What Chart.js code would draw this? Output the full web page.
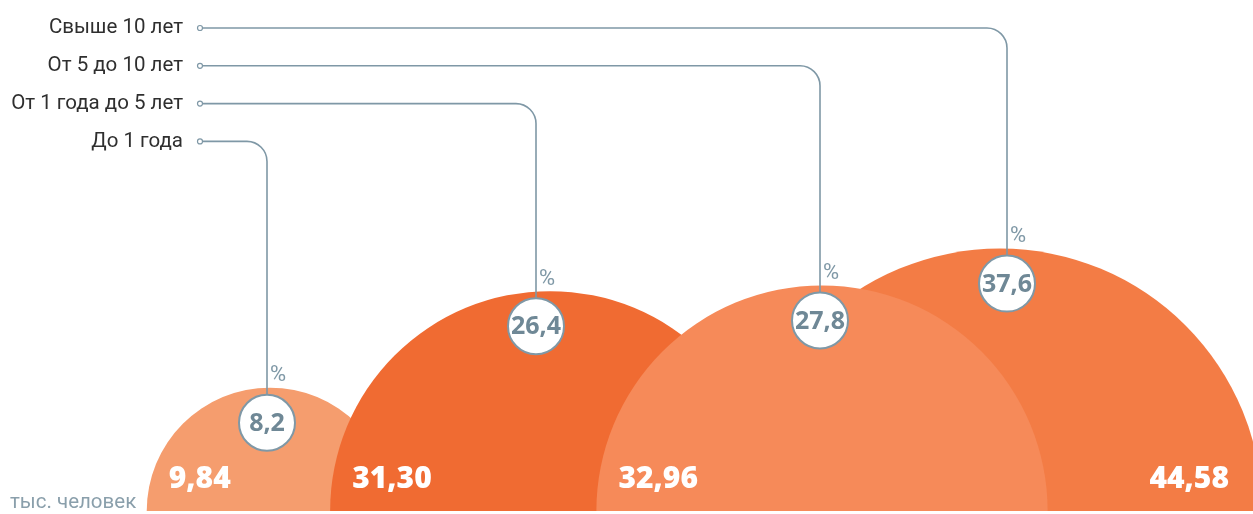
<!DOCTYPE html>
<html>
<head>
<meta charset="utf-8">
<script src="https://cdn.jsdelivr.net/npm/chart.js@4/dist/chart.umd.min.js"></script>
<style>
  html, body { margin: 0; padding: 0; background: #ffffff; }
  #wrap { width: 1253px; height: 514px; position: relative; }
</style>
</head>
<body>
<div id="wrap"><canvas id="c" width="1253" height="514"></canvas></div>
<script>
// ---- data ----
const categories = ['До 1 года', 'От 1 года до 5 лет', 'От 5 до 10 лет', 'Свыше 10 лет'];
const people = [9.84, 31.30, 32.96, 44.58];      // тыс. человек
const shares = [8.2, 26.4, 27.8, 37.6];           // %
const unitLabel = 'тыс. человек';

// ---- layout / style ----
const centerX = [270, 550, 822, 1000];            // bubble centres (x scale units)
const pinX = [267, 536, 820, 1007];               // pin lines (x scale units)
const colors = ['#F59D6E', '#F06B32', '#F68A59', '#F37C45'];
const drawOrder = [3, 2, 0, 1];                    // lower = on top
const sizeK = 39.3;                                 // radius = k * sqrt(value)
const lineColor = '#7F98A6';
const textGray = '#6F8896';

const fmt = (v, d) => v.toFixed(d).replace('.', ',');

const datasets = categories.map((c, i) => ({
  label: c,
  data: [{ x: centerX[i], y: 0, r: sizeK * Math.sqrt(people[i]) }],
  backgroundColor: colors[i],
  hoverBackgroundColor: colors[i],
  borderWidth: 0,
  hoverBorderWidth: 0,
  order: drawOrder[i],
  clip: { left: false, top: false, right: false, bottom: 0 }
}));

const overlay = {
  id: 'overlay',
  afterDatasetsDraw(chart) {
    const { ctx, scales: { x, y }, chartArea } = chart;
    const base = y.getPixelForValue(0);
    ctx.save();

    // value labels inside bubbles
    ctx.fillStyle = '#ffffff';
    ctx.font = '800 30px "Open Sans"';
    ctx.textBaseline = 'alphabetic';
    categories.forEach((c, i) => {
      const el = chart.getDatasetMeta(i).data[0];
      const r = el.options.radius;
      if (i === categories.length - 1) {
        ctx.textAlign = 'right';
        ctx.fillText(fmt(people[i], 2), chartArea.right - 24, 488);
      } else {
        ctx.textAlign = 'left';
        ctx.fillText(fmt(people[i], 2), el.x - r + 22, 488);
      }
    });

    // legend rows + pins
    const rowTop = 28, rowGap = 37.8, R = 20, lr = 28;
    categories.forEach((c, i) => {
      const el = chart.getDatasetMeta(i).data[0];
      const r = el.options.radius;
      const row = categories.length - 1 - i;
      const ry = rowTop + row * rowGap;
      const px = x.getPixelForValue(pinX[i]);
      const cy = base - r + 35;

      // legend text
      ctx.fillStyle = '#2f2f2f';
      ctx.font = '20.5px Roboto';
      ctx.textAlign = 'right';
      ctx.textBaseline = 'middle';
      ctx.fillText(c, 183, ry);

      // connector
      ctx.strokeStyle = lineColor;
      ctx.lineWidth = 1.6;
      ctx.beginPath();
      ctx.moveTo(202.5, ry);
      ctx.lineTo(px - R, ry);
      ctx.arcTo(px, ry, px, ry + R, R);
      ctx.lineTo(px, cy - lr);
      ctx.stroke();

      // dot
      ctx.fillStyle = '#ffffff';
      ctx.lineWidth = 1.2;
      ctx.beginPath();
      ctx.arc(200, ry, 2.5, 0, Math.PI * 2);
      ctx.fill();
      ctx.stroke();

      // label circle
      ctx.lineWidth = 2;
      ctx.beginPath();
      ctx.arc(px, cy, lr, 0, Math.PI * 2);
      ctx.fillStyle = '#ffffff';
      ctx.fill();
      ctx.stroke();
      ctx.fillStyle = textGray;
      ctx.font = 'bold 25px "Open Sans"';
      ctx.textAlign = 'center';
      ctx.textBaseline = 'middle';
      ctx.fillText(fmt(shares[i], 1), px, cy + 1);

      // percent sign
      ctx.fillStyle = lineColor;
      ctx.font = '22px Roboto';
      ctx.textAlign = 'left';
      ctx.fillText('%', px + 3, cy - lr - 19);
    });

    // unit
    ctx.fillStyle = '#8A9FAB';
    ctx.font = '20.5px Roboto';
    ctx.textAlign = 'left';
    ctx.textBaseline = 'middle';
    ctx.fillText(unitLabel, 10, 503);
    ctx.restore();
  }
};

new Chart(document.getElementById('c'), {
  type: 'bubble',
  data: { datasets },
  options: {
    responsive: false,
    animation: false,
    events: [],
    layout: { autoPadding: false, padding: { left: 0, right: 0, top: 0, bottom: 3 } },
    plugins: { legend: { display: false }, tooltip: { enabled: false } },
    scales: {
      x: { type: 'linear', min: 0, max: 1253, display: false },
      y: { type: 'linear', min: 0, max: 511, display: false }
    }
  },
  plugins: [overlay]
});
</script>
</body>
</html>
